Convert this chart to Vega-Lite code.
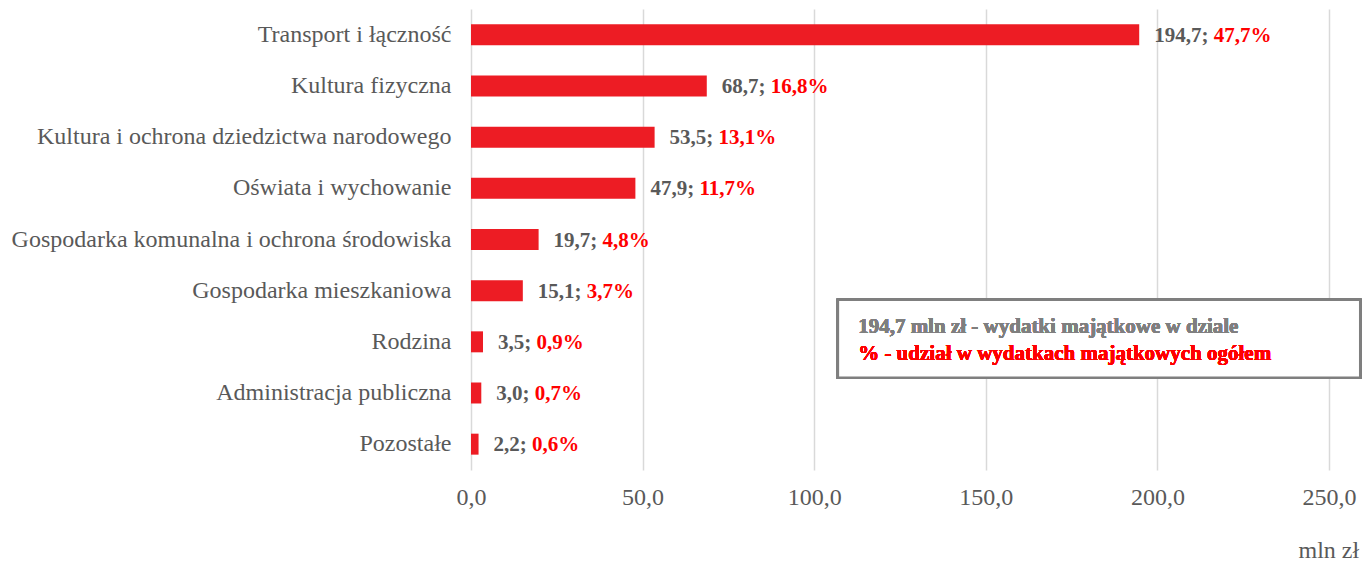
{
  "$schema": "https://vega.github.io/schema/vega-lite/v6.json",
  "width": 858,
  "height": 461,
  "autosize": {"type": "none"},
  "padding": {"left": 471, "top": 9, "right": 40, "bottom": 91},
  "background": "white",
  "config": {
    "view": {"stroke": null},
    "font": "Liberation Serif"
  },
  "data": {
    "values": [
      {"dzial": "Transport i łączność", "wartosc": 194.7, "udzial": 47.7},
      {"dzial": "Kultura fizyczna", "wartosc": 68.7, "udzial": 16.8},
      {"dzial": "Kultura i ochrona dziedzictwa narodowego", "wartosc": 53.5, "udzial": 13.1},
      {"dzial": "Oświata i wychowanie", "wartosc": 47.9, "udzial": 11.7},
      {"dzial": "Gospodarka komunalna i ochrona środowiska", "wartosc": 19.7, "udzial": 4.8},
      {"dzial": "Gospodarka mieszkaniowa", "wartosc": 15.1, "udzial": 3.7},
      {"dzial": "Rodzina", "wartosc": 3.5, "udzial": 0.9},
      {"dzial": "Administracja publiczna", "wartosc": 3.0, "udzial": 0.7},
      {"dzial": "Pozostałe", "wartosc": 2.2, "udzial": 0.6}
    ]
  },
  "transform": [
    {"calculate": "replace(format(datum.wartosc, '.1f'), '.', ',') + ';'", "as": "lab1"},
    {"calculate": "replace(format(datum.udzial, '.1f'), '.', ',') + '%'", "as": "lab2"}
  ],
  "encoding": {
    "y": {
      "field": "dzial",
      "type": "nominal",
      "sort": null,
      "scale": {"paddingInner": 0.59, "paddingOuter": 0.3},
      "axis": {
        "title": null,
        "domain": false,
        "ticks": false,
        "labelFont": "Liberation Serif",
        "labelFontSize": 24,
        "labelColor": "#595959",
        "labelPadding": 20,
        "labelLimit": 500
      }
    }
  },
  "layer": [
    {
      "mark": {"type": "bar", "color": "#ED1C24"},
      "encoding": {
        "x": {
          "field": "wartosc",
          "type": "quantitative",
          "scale": {"domain": [0, 250], "nice": false},
          "axis": {
            "values": [0, 50, 100, 150, 200, 250],
            "labelExpr": "replace(format(datum.value, '.1f'), '.', ',')",
            "labelFlush": false,
            "domain": false,
            "ticks": false,
            "grid": true,
            "gridColor": "#d9d9d9",
            "gridWidth": 1.5,
            "labelFont": "Liberation Serif",
            "labelFontSize": 24,
            "labelColor": "#595959",
            "labelPadding": 15,
            "title": "mln zł",
            "titleFont": "Liberation Serif",
            "titleFontSize": 24,
            "titleFontWeight": "normal",
            "titleColor": "#595959",
            "titleAlign": "left",
            "titleBaseline": "middle",
            "titleAnchor": null,
            "titleX": 827,
            "titleY": 80
          }
        }
      }
    },
    {
      "mark": {"type": "text", "align": "left", "baseline": "middle", "dx": 15, "dy": 1, "fontSize": 21, "fontWeight": "bold", "color": "#595959", "font": "Liberation Serif"},
      "encoding": {
        "x": {"field": "wartosc", "type": "quantitative"},
        "text": {"field": "lab1"}
      }
    },
    {
      "transform": [{"filter": "datum.wartosc < 10"}],
      "mark": {"type": "text", "align": "left", "baseline": "middle", "dx": 53.5, "dy": 1, "fontSize": 21, "fontWeight": "bold", "color": "#FF0000", "font": "Liberation Serif"},
      "encoding": {
        "x": {"field": "wartosc", "type": "quantitative"},
        "text": {"field": "lab2"}
      }
    },
    {
      "transform": [{"filter": "datum.wartosc >= 10 && datum.wartosc < 100"}],
      "mark": {"type": "text", "align": "left", "baseline": "middle", "dx": 64, "dy": 1, "fontSize": 21, "fontWeight": "bold", "color": "#FF0000", "font": "Liberation Serif"},
      "encoding": {
        "x": {"field": "wartosc", "type": "quantitative"},
        "text": {"field": "lab2"}
      }
    },
    {
      "transform": [{"filter": "datum.wartosc >= 100"}],
      "mark": {"type": "text", "align": "left", "baseline": "middle", "dx": 74.5, "dy": 1, "fontSize": 21, "fontWeight": "bold", "color": "#FF0000", "font": "Liberation Serif"},
      "encoding": {
        "x": {"field": "wartosc", "type": "quantitative"},
        "text": {"field": "lab2"}
      }
    },
    {
      "mark": {"type": "bar", "fill": "white", "stroke": "#7f7f7f", "strokeWidth": 2.5, "height": 78, "yOffset": -3, "clip": false},
      "encoding": {
        "x": {"datum": 106.9},
        "x2": {"datum": 259.1},
        "y": {"datum": "Rodzina"}
      }
    },
    {
      "mark": {"type": "text", "align": "left", "baseline": "middle", "dy": -15, "fontSize": 21, "fontWeight": "bold", "color": "#7f7f7f", "font": "Liberation Serif"},
      "encoding": {
        "x": {"datum": 112.8},
        "y": {"datum": "Rodzina"},
        "text": {"value": "194,7 mln zł - wydatki majątkowe w dziale"}
      }
    },
    {
      "mark": {"type": "text", "align": "left", "baseline": "middle", "dy": 12, "fontSize": 21, "fontWeight": "bold", "color": "#FF0000", "font": "Liberation Serif"},
      "encoding": {
        "x": {"datum": 112.8},
        "y": {"datum": "Rodzina"},
        "text": {"value": "% - udział w wydatkach majątkowych ogółem"}
      }
    }
  ]
}
